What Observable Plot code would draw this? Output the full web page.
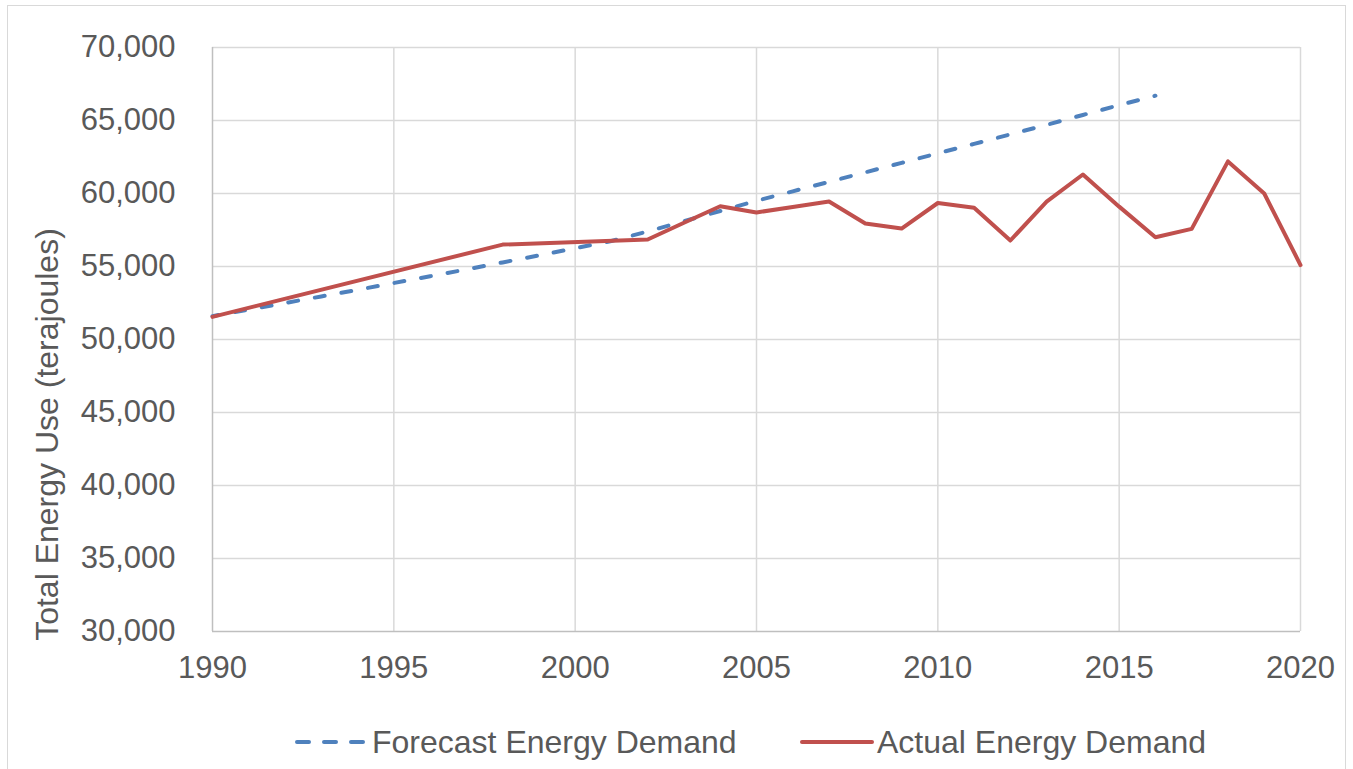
<!DOCTYPE html>
<html>
<head>
<meta charset="utf-8">
<script src="https://cdn.jsdelivr.net/npm/d3@7"></script>
<script src="https://cdn.jsdelivr.net/npm/@observablehq/plot@0.6"></script>
<style>
  body { margin: 0; background: #fff; font-family: "Liberation Sans", Arial, sans-serif; }
  #frame { position: absolute; left: 7px; top: 5px; width: 1339px; height: 820px; border: 1px solid #d9d9d9; box-sizing: border-box; }
  #chart { position: absolute; left: 0; top: 0; }
  .leg { position: absolute; top: 724px; height: 36px; display: flex; align-items: center; font-size: 32px; line-height: 36px; color: #595959; white-space: nowrap; }
  .leg svg { display: block; margin-right: 3px; }
</style>
</head>
<body>
<div id="frame"></div>
<div id="chart"></div>
<div class="leg" style="left:293px">
  <svg width="76" height="10"><line x1="4" y1="5" x2="74" y2="5" stroke="#4F81BD" stroke-width="4" stroke-linecap="round" stroke-dasharray="12,15"></line></svg>
  <span id="lab1"></span>
</div>
<div class="leg" style="left:800px">
  <svg width="74" height="10"><line x1="2" y1="5" x2="72" y2="5" stroke="#C0504D" stroke-width="4" stroke-linecap="round"></line></svg>
  <span id="lab2"></span>
</div>
<script>
// ---- data ----
const forecastName = "Forecast Energy Demand";
const actualName = "Actual Energy Demand";
const yLabel = "Total Energy Use (terajoules)";

const forecastYears = [1990, 1991, 1992, 1993, 1994, 1995, 1996, 1997, 1998, 1999, 2000, 2001, 2002, 2003,
  2004, 2005, 2006, 2007, 2008, 2009, 2010, 2011, 2012, 2013, 2014, 2015, 2016];
const forecastValues = [51600, 52050, 52500, 52950, 53400, 53870, 54330, 54800, 55280, 55760, 56250, 56750, 57400, 58100,
  58800, 59500, 60150, 60800, 61450, 62100, 62750, 63400, 64050, 64700, 65380, 66050, 66700];

const actualYears = [1990, 1998, 2002, 2003, 2004, 2005, 2006, 2007, 2008, 2009, 2010, 2011, 2012, 2013,
  2014, 2015, 2016, 2017, 2018, 2019, 2020];
const actualValues = [51550, 56500, 56850, 58000, 59130, 58700, 59080, 59450, 57950, 57600, 59350, 59020, 56780, 59450,
  61300, 59100, 57000, 57580, 62200, 60000, 55100];

const xTicks = [1990, 1995, 2000, 2005, 2010, 2015, 2020];
const yTicks = [30000, 35000, 40000, 45000, 50000, 55000, 60000, 65000, 70000];

const forecast = forecastYears.map((year, i) => ({year, value: forecastValues[i]}));
const actual = actualYears.map((year, i) => ({year, value: actualValues[i]}));

document.getElementById("lab1").textContent = forecastName;
document.getElementById("lab2").textContent = actualName;

const textColor = "#595959";
const gridColor = "#d9d9d9";

const chart = Plot.plot({
  width: 1353,
  height: 700,
  marginTop: 47,
  marginRight: 53,
  marginBottom: 69,
  marginLeft: 212,
  style: { fontFamily: '"Liberation Sans", Arial, sans-serif', fontSize: "31px", color: textColor, background: "transparent" },
  x: { domain: [1990, 2020] },
  y: { domain: [30000, 70000] },
  marks: [
    Plot.ruleX(xTicks.slice(1), { x: d => d, stroke: gridColor, strokeWidth: 1.5 }),
    Plot.ruleY(yTicks.slice(1), { y: d => d, stroke: gridColor, strokeWidth: 1.5 }),
    Plot.ruleX([xTicks[0]], { x: d => d, stroke: "#bfbfbf", strokeWidth: 1.5 }),
    Plot.ruleY([yTicks[0]], { y: d => d, stroke: "#bfbfbf", strokeWidth: 1.5 }),
    Plot.axisX({ ticks: xTicks, tickSize: 0, tickPadding: 24, tickFormat: d => String(d), label: null, fontSize: 31 }),
    Plot.axisY({ ticks: yTicks, tickSize: 0, tickPadding: 37, tickFormat: d3.format(","), label: null, fontSize: 31 }),
    Plot.text([yLabel], { text: d => d, frameAnchor: "left", textAnchor: "middle", rotate: -90, dx: -165, dy: 95, fontSize: 32, fill: textColor }),
    Plot.line(forecast, { x: "year", y: "value", stroke: "#4F81BD", strokeWidth: 4, strokeDasharray: "10,17", strokeDashoffset: 4, strokeLinecap: "round" }),
    Plot.line(actual, { x: "year", y: "value", stroke: "#C0504D", strokeWidth: 4, strokeLinejoin: "round", strokeLinecap: "round" })
  ]
});
document.getElementById("chart").appendChild(chart);
</script>
</body>
</html>
